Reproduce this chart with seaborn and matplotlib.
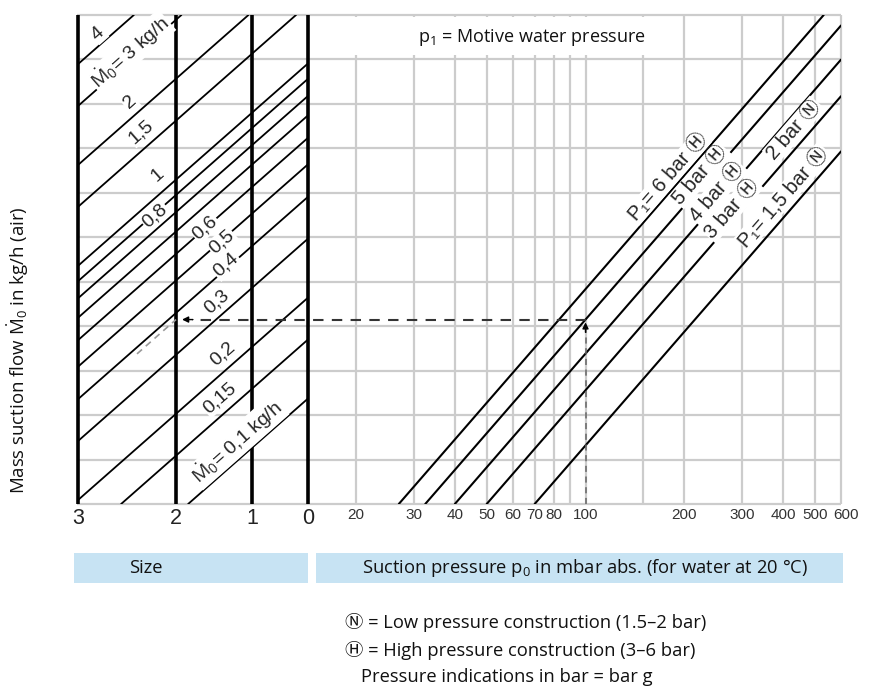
import numpy as np
import pandas as pd
import matplotlib
matplotlib.use("Agg")
import matplotlib.pyplot as plt
import matplotlib.transforms as mtransforms
from matplotlib.patches import Rectangle
import seaborn as sns

# ---------------- data ----------------
size_labels = ["3", "2", "1", "0"]
flow_values = [4, 3, 2, 1.5, 1, 0.9, 0.8, 0.7, 0.6, 0.5, 0.4, 0.3, 0.2, 0.15, 0.1]  # kg/h
flow_label_values = [4, 3, 2, 1.5, 1, 0.8, 0.6, 0.5, 0.4, 0.3, 0.2, 0.15, 0.1]
flow_label_texts = ["4", r"$\dot{\mathrm{M}}_0$= 3 kg/h", "2", "1,5", "1", "0,8", "0,6", "0,5",
                    "0,4", "0,3", "0,2", "0,15", r"$\dot{\mathrm{M}}_0$= 0,1 kg/h"]

motive_pressures = [6, 5, 4, 3, 1.5]          # bar g
p0_at_base = [27, 32.5, 40, 50, 70]           # mbar where each line leaves the bottom
pressure_label_line = [6, 5, 4, 3, 3, 1.5]
pressure_label_texts = ["P₁= 6 bar Ⓗ", "5 bar Ⓗ", "4 bar Ⓗ", "3 bar Ⓗ",
                        "2 bar Ⓝ", "P₁= 1,5 bar Ⓝ"]

p0_tick_values = [20, 30, 40, 50, 60, 70, 80, 100, 200, 300, 400, 500, 600]
p0_grid_values = [20, 30, 40, 50, 60, 70, 80, 90, 100, 150, 200, 300, 400, 500, 600]

example_p0 = 100
example_p1 = 5
example_size = "2"

# ---------------- nomogram scales ----------------
N_ROWS = 11
FLOW_REF = 0.1
FLOW_REF_Y = 2.373      # rows of 0.1 kg/h on the size-0 line
FLOW_DECADE = 7.537     # rows per decade of flow
SIZE_SLOPE = 6.50       # rows per decade of x
P_DECADE = 8.50         # rows per decade of suction pressure

# ---------------- layout (pixels) ----------------
W, H = 878, 687
AX_L, AX_R, AX_T, AX_B = 77, 841, 15, 504
PX_20 = 356
PX_PER_DEC = (AX_R - PX_20) / np.log10(600 / 20)
ROW_PX = (AX_B - AX_T) / N_ROWS
size_px = [78, 176, 252, 308]


def px_to_x(px):
    return np.log10(20) + (px - PX_20) / PX_PER_DEC


def py_to_y(py):
    return (AX_B - py) / ROW_PX


def fx(px):
    return px / W


def fy(py):
    return 1 - py / H


size_x = [px_to_x(p) for p in size_px]
x0 = size_x[3]
xlim = (px_to_x(AX_L), np.log10(600))


def flow_y(m, x):
    return FLOW_REF_Y + FLOW_DECADE * np.log10(m / FLOW_REF) + SIZE_SLOPE * (x - x0)


def p_y(p0, pb):
    return P_DECADE * np.log10(p0 / pb)


# ---------------- build line tables ----------------
rows = []
for m in flow_values:
    base = FLOW_REF_Y + FLOW_DECADE * np.log10(m / FLOW_REF)
    x_lo = x0 + (0 - base) / SIZE_SLOPE
    x_hi = x0 + (N_ROWS - base) / SIZE_SLOPE
    xs, xe = max(size_x[0], x_lo), min(x0, x_hi)
    if xs < xe:
        for x in (xs, xe):
            rows.append({"line": f"M{m}", "x": x, "y": flow_y(m, x)})
flow_df = pd.DataFrame(rows)

rows = []
for p1, pb in zip(motive_pressures, p0_at_base):
    xs = np.log10(pb)
    xe = min(np.log10(600), xs + N_ROWS / P_DECADE)
    for x in (xs, xe):
        rows.append({"line": f"P{p1}", "x": x, "y": p_y(10 ** x, pb)})
press_df = pd.DataFrame(rows)

# ---------------- figure ----------------
sns.set_style("white")
plt.rcParams['font.family'] = ['Open Sans', 'DejaVu Sans', 'Noto Sans CJK JP']
plt.rcParams['mathtext.fontset'] = 'custom'
plt.rcParams['mathtext.rm'] = 'Open Sans'
plt.rcParams['mathtext.it'] = 'Open Sans:italic'
CHART_FONT = ['Liberation Sans', 'DejaVu Sans', 'Noto Sans CJK JP']
GRID = '#cccccc'
TXT = 13.2

fig = plt.figure(figsize=(W / 100, H / 100), dpi=100)
ax = fig.add_axes([fx(AX_L), fy(AX_B), (AX_R - AX_L) / W, (AX_B - AX_T) / H])
ax.set_xlim(*xlim)
ax.set_ylim(0, N_ROWS)
for s in ax.spines.values():
    s.set_visible(False)

# grid
ax.hlines(np.arange(0, N_ROWS + 1), xlim[0], xlim[1], color=GRID, lw=1.6, zorder=1, clip_on=False)
ax.vlines(np.log10(p0_grid_values), 0, N_ROWS, color=GRID, lw=1.6, zorder=1, clip_on=False)

# lines
sns.lineplot(data=flow_df, x="x", y="y", units="line", estimator=None, sort=False,
             color="black", lw=1.3, ax=ax, legend=False, zorder=2)
sns.lineplot(data=press_df, x="x", y="y", units="line", estimator=None, sort=False,
             color="black", lw=1.5, ax=ax, legend=False, zorder=2)
ax.vlines(size_x, 0, N_ROWS, color="black", lw=2.6, zorder=3, clip_on=False)
ax.set_xlabel("")
ax.set_ylabel("")

# example reading
pb_ex = p0_at_base[motive_pressures.index(example_p1)]
y_ex = p_y(example_p0, pb_ex)
x_ex = np.log10(example_p0)
xs2 = size_x[size_labels.index(example_size)]
ax.plot([x_ex, x_ex], [0, y_ex - 0.2], color="#666666", lw=1.1, ls=(0, (4, 3)), zorder=3)
ax.annotate("", xy=(x_ex, y_ex), xytext=(x_ex, y_ex - 0.35),
            arrowprops=dict(arrowstyle="-|>", color="black", lw=1, mutation_scale=9), zorder=3)
ax.plot([x_ex, xs2 + 0.05], [y_ex, y_ex], color="#333333", lw=1.5, ls=(0, (5, 4)), zorder=3)
ax.annotate("", xy=(xs2 + 0.01, y_ex), xytext=(xs2 + 0.06, y_ex),
            arrowprops=dict(arrowstyle="-|>", color="black", lw=1, mutation_scale=9), zorder=3)
m_ex = FLOW_REF * 10 ** ((y_ex - FLOW_REF_Y - SIZE_SLOPE * (xs2 - x0)) / FLOW_DECADE)
xd = np.array([px_to_x(137), xs2])
ax.plot(xd, flow_y(m_ex, xd), color="#999999", lw=1.2, ls=(0, (4, 3)), zorder=3)


# angles in screen space
def screen_angle(x1, y1, x2, y2):
    a = ax.transData.transform((x1, y1))
    b = ax.transData.transform((x2, y2))
    return np.degrees(np.arctan2(b[1] - a[1], b[0] - a[0]))


flow_ang = screen_angle(x0 - 0.5, flow_y(1, x0 - 0.5), x0, flow_y(1, x0))
p_ang = screen_angle(np.log10(30), p_y(30, 20), np.log10(300), p_y(300, 20))

# flow labels: (center x px, offset up px)
flow_label_layout = [(98, 13), (130, 8), (130, 17), (141, 20), (158, 20), (155, 15),
                     (205, 1), (222, -2), (226, 4), (217, 17), (223, 19), (220, 19), (237, 19)]
for m, t, (cx, dy) in zip(flow_label_values, flow_label_texts, flow_label_layout):
    x = px_to_x(cx)
    ax.annotate(t, xy=(x, flow_y(m, x)), xytext=(0, dy), textcoords="offset pixels",
                ha="center", va="center", rotation=flow_ang, rotation_mode="anchor",
                fontsize=14, family=CHART_FONT, zorder=5,
                bbox=dict(boxstyle="square,pad=0.06", fc="white", ec="none"))

# pressure labels: (center y px, offset left px)
press_label_layout = [(177, 15), (175, 11), (192, 9), (209, 11), (130, 18), (197, 18)]
for p1, t, (cy, dx) in zip(pressure_label_line, pressure_label_texts, press_label_layout):
    pb = p0_at_base[motive_pressures.index(p1)]
    yv = py_to_y(cy)
    x = np.log10(pb) + yv / P_DECADE
    ax.annotate(t, xy=(x, yv), xytext=(-dx, 0), textcoords="offset pixels",
                ha="center", va="center", rotation=p_ang, rotation_mode="anchor",
                fontsize=14.5, family=CHART_FONT, zorder=5,
                bbox=dict(boxstyle="square,pad=0.04", fc="white", ec="none"))

# ticks
tick_pos = size_x + list(np.log10(p0_tick_values))
tick_lab = size_labels + [str(v) for v in p0_tick_values]
ax.set_xticks(tick_pos)
ax.set_xticklabels(tick_lab)
ax.set_yticks([])
ax.tick_params(axis="x", length=0, pad=3)
labels = ax.get_xticklabels()
for i, lab in enumerate(labels):
    lab.set_family(CHART_FONT)
    if i < len(size_labels):
        lab.set_fontsize(15.5)
        lab.set_color("#222222")
    else:
        lab.set_fontsize(11)
        lab.set_color("#333333")
shift = mtransforms.ScaledTranslation(5 / 100, 0, fig.dpi_scale_trans)
labels[-1].set_transform(labels[-1].get_transform() + shift)

# top note
ax.add_patch(Rectangle((px_to_x(320), py_to_y(55)), px_to_x(658) - px_to_x(320),
                       py_to_y(17) - py_to_y(55), fc="white", ec="none", zorder=4))
fig.text(fx(532), fy(38), "p$_1$ = Motive water pressure", ha="center", va="center",
         fontsize=13, color="#111111", zorder=6)

# y label
fig.text(fx(18), fy(350), r"Mass suction flow $\dot{\mathrm{M}}_0$ in kg/h (air)", rotation=90,
         ha="center", va="center", fontsize=13.4, color="#111111")

# bottom boxes
BOX = "#c7e3f3"
fig.patches.append(Rectangle((fx(74), fy(583)), (308 - 74) / W, 30 / H,
                             transform=fig.transFigure, fc=BOX, ec="none"))
fig.patches.append(Rectangle((fx(316), fy(583)), (843 - 316) / W, 30 / H,
                             transform=fig.transFigure, fc=BOX, ec="none"))
fig.text(fx(129), fy(568), "Size", ha="left", va="center", fontsize=TXT, color="#111111")
fig.text(fx(362), fy(568), "Suction pressure p$_0$ in mbar abs. (for water at 20 °C)",
         ha="left", va="center", fontsize=TXT, color="#111111")

legend_lines = ["Ⓝ = Low pressure construction (1.5–2 bar)",
                "Ⓗ = High pressure construction (3–6 bar)",
                "Pressure indications in bar = bar g"]
legend_x = [345, 345, 361]
for i, (t, lx) in enumerate(zip(legend_lines, legend_x)):
    fig.text(fx(lx), fy(623 + 27 * i), t, ha="left", va="center", fontsize=TXT,
             color="#111111")

fig.savefig("out.png", dpi=100)
